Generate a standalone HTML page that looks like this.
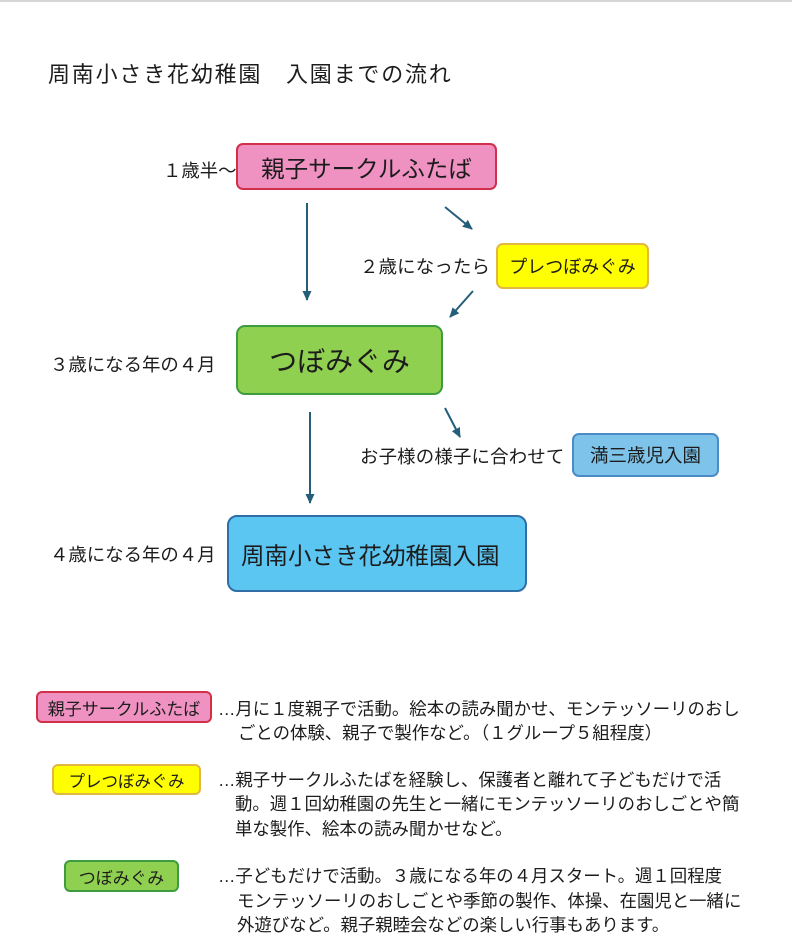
<!DOCTYPE html>
<html lang="ja">
<head>
<meta charset="utf-8">
<style>
  html,body{margin:0;padding:0;}
  body{width:792px;height:950px;position:relative;background:#fff;overflow:hidden;
    font-family:"Liberation Sans","Noto Sans CJK JP",sans-serif;color:#1c1c1c;}
  .topline{position:absolute;left:0;top:0;width:792px;height:2px;background:#d6d6d6;}
  .t{position:absolute;white-space:nowrap;}
  .box{position:absolute;box-sizing:border-box;display:flex;align-items:center;justify-content:center;white-space:nowrap;}
  .lbl{font-size:18.4px;height:26px;line-height:26px;}
  .desc{font-size:17.4px;height:24px;line-height:24px;}
  .ell{display:inline-block;width:1em;text-align:left;}
</style>
</head>
<body>
<div class="topline"></div>

<!-- Title -->
<div class="t" style="left:48px;top:61px;font-size:22px;letter-spacing:1.8px;line-height:28px;">周南小さき花幼稚園　入園までの流れ</div>

<!-- Flow boxes -->
<div class="box" style="left:236px;top:143px;width:261px;height:47px;background:#EF92C1;border:2px solid #D0304A;border-radius:7px;font-size:23.5px;">親子サークルふたば</div>

<div class="box" style="left:496px;top:243px;width:153px;height:46px;background:#FFFF00;border:2px solid #E2B842;border-radius:7px;font-size:18px;">プレつぼみぐみ</div>

<div class="box" style="left:236px;top:325px;width:207px;height:70px;background:#90D050;border:2px solid #3E9C40;border-radius:9px;font-size:28px;">つぼみぐみ</div>

<div class="box" style="left:572px;top:433px;width:147px;height:44px;background:#7DC3EA;border:2px solid #4C8CC6;border-radius:7px;font-size:18.5px;">満三歳児入園</div>

<div class="box" style="left:227px;top:515px;width:300px;height:77px;background:#5CC6F3;border:2px solid #2F6EA6;border-radius:10px;font-size:23.5px;justify-content:flex-start;padding-left:12px;">周南小さき花幼稚園入園</div>

<!-- Flow labels -->
<div class="t lbl" style="left:163px;top:158px;">１歳半〜</div>
<div class="t lbl" style="left:360px;top:254px;letter-spacing:0.2px;">２歳になったら</div>
<div class="t lbl" style="left:50px;top:352px;">３歳になる年の４月</div>
<div class="t lbl" style="left:360px;top:444px;letter-spacing:0.2px;">お子様の様子に合わせて</div>
<div class="t lbl" style="left:50px;top:542px;">４歳になる年の４月</div>

<!-- Arrows -->
<svg style="position:absolute;left:0;top:0;" width="792" height="950" viewBox="0 0 792 950">
  <defs>
    <marker id="ah" markerWidth="10" markerHeight="10" refX="9" refY="5" orient="auto" markerUnits="userSpaceOnUse">
      <path d="M0,0.5 L10,5 L0,9.5 z" fill="#245E7A"/>
    </marker>
  </defs>
  <g stroke="#245E7A" stroke-width="2" fill="none">
    <line x1="307" y1="203" x2="307" y2="300" marker-end="url(#ah)"/>
    <line x1="445" y1="207" x2="472" y2="229" marker-end="url(#ah)"/>
    <line x1="473" y1="291" x2="450" y2="317" marker-end="url(#ah)"/>
    <line x1="310" y1="412" x2="310" y2="503" marker-end="url(#ah)"/>
    <line x1="445" y1="408" x2="460" y2="437" marker-end="url(#ah)"/>
  </g>
</svg>

<!-- Legend boxes -->
<div class="box" style="left:36px;top:691px;width:176px;height:32px;background:#EF92C1;border:2px solid #D0304A;border-radius:6px;font-size:17px;">親子サークルふたば</div>
<div class="box" style="left:52px;top:764px;width:149px;height:31px;background:#FFFF00;border:2px solid #E2B842;border-radius:6px;font-size:16.5px;">プレつぼみぐみ</div>
<div class="box" style="left:64px;top:860px;width:115px;height:32px;background:#90D050;border:2px solid #3E9C40;border-radius:6px;font-size:17px;">つぼみぐみ</div>

<!-- Legend descriptions -->
<div class="t desc" style="left:218px;top:697px;"><span class="ell">…</span>月に１度親子で活動。絵本の読み聞かせ、モンテッソーリのおし</div>
<div class="t desc" style="left:238px;top:721px;">ごとの体験、親子で製作など。（１グループ５組程度）</div>

<div class="t desc" style="left:218px;top:768px;"><span class="ell">…</span>親子サークルふたばを経験し、保護者と離れて子どもだけで活</div>
<div class="t desc" style="left:235px;top:792px;">動。週１回幼稚園の先生と一緒にモンテッソーリのおしごとや簡</div>
<div class="t desc" style="left:235px;top:817px;">単な製作、絵本の読み聞かせなど。</div>

<div class="t desc" style="left:218px;top:864px;"><span class="ell">…</span>子どもだけで活動。３歳になる年の４月スタート。週１回程度</div>
<div class="t desc" style="left:237px;top:889px;">モンテッソーリのおしごとや季節の製作、体操、在園児と一緒に</div>
<div class="t desc" style="left:237px;top:913px;">外遊びなど。親子親睦会などの楽しい行事もあります。</div>

</body>
</html>
